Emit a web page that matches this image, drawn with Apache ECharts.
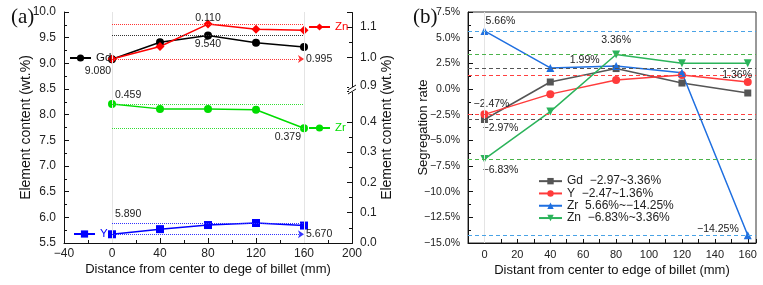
<!DOCTYPE html>
<html>
<head>
<meta charset="utf-8">
<script src="https://cdn.jsdelivr.net/npm/echarts@6/dist/echarts.min.js"></script>
<style>
html, body { margin: 0; padding: 0; background: #fff; }
#main { width: 763px; height: 285px; }
</style>
</head>
<body>
<div id="main"></div>
<script>
// ---- data ----
var distance = [0, 40, 80, 120, 160];

// (a) element content, wt.%
var gdContent = [9.08, 9.41, 9.54, 9.40, 9.32];   // left axis
var yContent  = [5.67, 5.77, 5.85, 5.89, 5.84];   // left axis
var znContent = [0.995, 1.036, 1.110, 1.093, 1.090]; // right axis
var zrContent = [0.459, 0.443, 0.443, 0.440, 0.379]; // right axis
var znMaxText = '0.110';

// (b) segregation rate, %
var gdSeg = [-2.97, 0.68, 1.99, 0.58, -0.39];
var ySeg  = [-2.47, -0.50, 0.88, 1.36, 0.68];
var zrSeg = [5.66, 2.05, 2.25, 1.58, -14.25];
var znSeg = [-6.83, -2.20, 3.36, 2.50, 2.50];

var segNames = ['Gd  \u22122.97~3.36%', 'Y  \u22122.47~1.36%', 'Zr  5.66%~\u221214.25%', 'Zn  \u22126.83%~3.36%'];

var FONT = "'Liberation Sans', Arial, sans-serif";

function minus(v) { return String(v).replace('-', '\u2212'); }
function pct(v) { return (v < 0 ? '\u2212' : '') + Math.abs(v).toFixed(2) + '%'; }
function pairs(ys) { return distance.map(function (x, i) { return [x, ys[i]]; }); }
function hline(v, label) {
    var a = { coord: [0, v] };
    if (label) a.label = label;
    return [a, { coord: [160, v] }];
}
function withLabel(data, i, label) {
    data[i] = { value: data[i], label: label };
    return data;
}

var dom = document.getElementById('main');
var myChart = echarts.init(dom);
var option = null;

var axisCommon = {
    type: 'value',
    axisLine: { show: true, onZero: false, lineStyle: { color: '#111', width: 1 } },
    axisTick: { show: true, inside: true, length: 5, lineStyle: { color: '#111' } },
    minorTick: { show: true, splitNumber: 2, length: 3, lineStyle: { color: '#111' } },
    splitLine: { show: false },
    axisLabel: { color: '#222', fontSize: 12, fontFamily: FONT },
    nameLocation: 'middle',
    nameMoveOverlap: false,
    nameTextStyle: { color: '#111', fontSize: 13, fontFamily: FONT }
};
function ax(extra) { return echarts.util.merge(echarts.util.clone(axisCommon), extra, true); }

var smallLabel = { show: true, color: '#222', fontSize: 10.5, fontFamily: FONT };
function lab(extra) { return echarts.util.extend(echarts.util.clone(smallLabel), extra); }

var keyCommon = { padding: 0, itemWidth: 21, itemHeight: 9, selectedMode: false, z: 20 };
function key(extra) { return echarts.util.extend(echarts.util.clone(keyCommon), extra); }

option = {
    animation: false,
    backgroundColor: '#fff',
    textStyle: { fontFamily: FONT },
    title: [
        { text: '(a)', left: 6, top: 2, textStyle: { fontFamily: "'Liberation Serif', serif", fontSize: 21, fontWeight: 'normal', color: '#111' } },
        { text: '(b)', left: 408, top: 2, textStyle: { fontFamily: "'Liberation Serif', serif", fontSize: 21, fontWeight: 'normal', color: '#111' } }
    ],
    grid: [
        { left: 64, right: 411, top: 12, bottom: 42 },
        { left: 468, right: 7, top: 12, bottom: 42, show: true, borderColor: '#333', borderWidth: 1, backgroundColor: 'transparent' }
    ],
    legend: [
        key({ data: ['Gd'], left: 69, top: 52, textStyle: { color: '#111', fontSize: 11.5 } }),
        key({ data: ['Y'], left: 73, top: 228, textStyle: { color: '#0000ff', fontSize: 11.5 } }),
        key({ data: ['Zn'], left: 308, top: 21, textStyle: { color: '#ff0000', fontSize: 11.5 } }),
        key({ data: ['Zr'], left: 308, top: 122, textStyle: { color: '#00dd00', fontSize: 11.5 } }),
        key({ data: segNames, left: 538, top: 175, orient: 'vertical', itemGap: 0, itemWidth: 23, itemHeight: 8,
              textStyle: { color: '#222', fontSize: 12, lineHeight: 12.3 } })
    ],
    xAxis: [
        ax({
            gridIndex: 0, min: -40, max: 200, interval: 40,
            axisLabel: { formatter: minus, margin: 5 },
            name: 'Distance from center to dege of billet (mm)', nameGap: 20
        }),
        ax({
            gridIndex: 1, min: -10, max: 165, interval: 10,
            minorTick: { show: false },
            axisTick: { length: 4 },
            axisLabel: {
                margin: 6, fontSize: 11,
                formatter: function (v) { return (v >= 0 && v % 20 === 0) ? String(v) : ''; }
            },
            name: 'Distant from center to edge of billet (mm)', nameGap: 21
        })
    ],
    yAxis: [
        ax({
            gridIndex: 0, position: 'left', min: 5.5, max: 10, interval: 0.5,
            axisLabel: { formatter: function (v) { return v.toFixed(1); } },
            name: 'Element content (wt.%)', nameRotate: 90, nameGap: 31, nameTextStyle: { fontSize: 14 }
        }),
        ax({
            gridIndex: 0, position: 'right', min: 0, max: 1.15, interval: 0.1,
            breaks: [{ start: 0.5, end: 0.9, gap: '1.7%' }],
            breakArea: { show: false, expandOnClick: false },
            axisLabel: {
                formatter: function (v) {
                    if (Math.abs(v - 0.5) < 1e-6 || v > 1.12) return '';
                    return v.toFixed(1);
                }
            },
            name: 'Element content (wt.%)', nameRotate: 90, nameGap: 28, nameTextStyle: { fontSize: 14 }
        }),
        ax({
            gridIndex: 1, min: -15, max: 7.5, interval: 2.5,
            axisLabel: { fontSize: 10.5, formatter: function (v) { return minus(v.toFixed(1)) + '%'; } },
            name: 'Segregation rate', nameRotate: 90, nameGap: 38
        })
    ],
    graphic: [
        { type: 'rect', shape: { x: 349, y: 87, width: 6, height: 5 }, style: { fill: '#fff' }, z: 100 },
        { type: 'line', shape: { x1: 348, y1: 90, x2: 356, y2: 85 }, style: { stroke: '#111', lineWidth: 1 }, z: 101 },
        { type: 'line', shape: { x1: 348, y1: 94, x2: 356, y2: 89 }, style: { stroke: '#111', lineWidth: 1 }, z: 101 }
    ],
    series: [
        // ----- (a) -----
        {
            name: 'Gd', type: 'line', xAxisIndex: 0, yAxisIndex: 0,
            data: withLabel(pairs(gdContent), 0, lab({ position: 'bottom', offset: [-14, -3], formatter: gdContent[0].toFixed(3) })),
            symbol: 'circle', symbolSize: 8, color: '#000',
            lineStyle: { width: 1.5 },
            markLine: {
                silent: true, symbol: 'none', label: { show: false },
                lineStyle: { color: '#333', type: 'dotted', width: 1 },
                data: [
                    [{ coord: [0, 5.5], lineStyle: { color: '#e4e4e4', type: 'solid' } }, { coord: [0, 10] }],
                    [{ coord: [160, 5.5], lineStyle: { color: '#e4e4e4', type: 'solid' } }, { coord: [160, 10] }],
                    hline(gdContent[2], lab({ position: 'insideMiddleBottom', distance: 3, formatter: gdContent[2].toFixed(3) })),
                    hline(gdContent[0])
                ]
            }
        },
        {
            name: 'Y', type: 'line', xAxisIndex: 0, yAxisIndex: 0,
            data: pairs(yContent),
            symbol: 'rect', symbolSize: 8, color: '#0000ff',
            lineStyle: { width: 1.5 },
            markLine: {
                silent: true, symbol: 'none', label: { show: false },
                lineStyle: { color: '#3333ff', type: 'dotted', width: 1 },
                data: [
                    hline(yContent[3], lab({ position: 'insideStartTop', distance: 3, formatter: yContent[3].toFixed(3) })),
                    [{ coord: [0, yContent[0]], label: lab({ position: 'end', distance: 2, formatter: yContent[0].toFixed(3) }) },
                     { coord: [160, yContent[0]], symbol: 'arrow', symbolSize: 6 }]
                ]
            }
        },
        {
            name: 'Zn', type: 'line', xAxisIndex: 0, yAxisIndex: 1,
            data: pairs(znContent),
            symbol: 'diamond', symbolSize: 9, color: '#ff0000',
            lineStyle: { width: 1.5 },
            markLine: {
                silent: true, symbol: 'none', label: { show: false },
                lineStyle: { color: '#ff3333', type: 'dotted', width: 1 },
                data: [
                    hline(znContent[2], lab({ position: 'insideMiddleTop', distance: 1, formatter: znMaxText })),
                    [{ coord: [0, znContent[0]], label: lab({ position: 'end', distance: 2, formatter: znContent[0].toFixed(3) }) },
                     { coord: [160, znContent[0]], symbol: 'arrow', symbolSize: 6 }]
                ]
            }
        },
        {
            name: 'Zr', type: 'line', xAxisIndex: 0, yAxisIndex: 1,
            data: pairs(zrContent),
            symbol: 'circle', symbolSize: 8, color: '#00dd00',
            lineStyle: { width: 1.5 },
            markLine: {
                silent: true, symbol: 'none', label: { show: false },
                lineStyle: { color: '#33dd33', type: 'dotted', width: 1 },
                data: [
                    hline(zrContent[0], lab({ position: 'insideStartTop', distance: 3, formatter: zrContent[0].toFixed(3) })),
                    hline(zrContent[4], lab({ position: 'insideEndBottom', distance: 3, formatter: zrContent[4].toFixed(3) }))
                ]
            }
        },
        // ----- (b) -----
        {
            name: segNames[0], type: 'line', xAxisIndex: 1, yAxisIndex: 2,
            data: withLabel(withLabel(pairs(gdSeg), 0, lab({ position: 'bottom', offset: [16, -5], formatter: pct(gdSeg[0]) })),
                            2, lab({ position: 'left', offset: [-8, -8], formatter: pct(gdSeg[2]) })),
            symbol: 'rect', symbolSize: 7, color: '#555555',
            lineStyle: { width: 1.5 },
            markLine: {
                silent: true, symbol: 'none', label: { show: false },
                lineStyle: { color: '#555', type: [4, 3], width: 1 },
                data: [
                    { xAxis: 0, lineStyle: { color: '#e4e4e4', type: 'solid' } },
                    { yAxis: gdSeg[2] }, { yAxis: gdSeg[0] }
                ]
            }
        },
        {
            name: segNames[1], type: 'line', xAxisIndex: 1, yAxisIndex: 2,
            data: withLabel(pairs(ySeg), 0, lab({ position: 'top', offset: [7, 4], formatter: pct(ySeg[0]) })),
            symbol: 'circle', symbolSize: 8, color: '#ff3b3b',
            lineStyle: { width: 1.5 },
            markLine: {
                silent: true, symbol: 'none', label: { show: false },
                lineStyle: { color: '#ff4040', type: [4, 3], width: 1 },
                data: [
                    { yAxis: ySeg[3], label: lab({ position: 'insideEnd', distance: 4, formatter: pct(ySeg[3]) }) },
                    { yAxis: ySeg[0] }
                ]
            }
        },
        {
            name: segNames[2], type: 'line', xAxisIndex: 1, yAxisIndex: 2,
            data: withLabel(withLabel(pairs(zrSeg), 0, lab({ position: 'top', offset: [16, 5], formatter: pct(zrSeg[0]) })),
                            4, lab({ position: 'left', offset: [0, -6], formatter: pct(zrSeg[4]) })),
            symbol: 'triangle', symbolSize: 8, color: '#1f6fe0',
            lineStyle: { width: 1.5 },
            markLine: {
                silent: true, symbol: 'none', label: { show: false },
                lineStyle: { color: '#4aa3e6', type: [4, 3], width: 1 },
                data: [{ yAxis: zrSeg[0] }, { yAxis: zrSeg[4] }]
            }
        },
        {
            name: segNames[3], type: 'line', xAxisIndex: 1, yAxisIndex: 2,
            data: withLabel(withLabel(pairs(znSeg), 0, lab({ position: 'bottom', offset: [16, -4], formatter: pct(znSeg[0]) })),
                            2, lab({ position: 'top', formatter: pct(znSeg[2]) })),
            symbol: 'triangle', symbolRotate: 180, symbolSize: 8, color: '#2bb35a',
            lineStyle: { width: 1.5 },
            markLine: {
                silent: true, symbol: 'none', label: { show: false },
                lineStyle: { color: '#4cb34c', type: [4, 3], width: 1 },
                data: [{ yAxis: znSeg[2] }, { yAxis: znSeg[0] }]
            }
        }
    ]
};

if (option && typeof option === 'object') {
    myChart.setOption(option, true);
}
</script>
</body>
</html>
